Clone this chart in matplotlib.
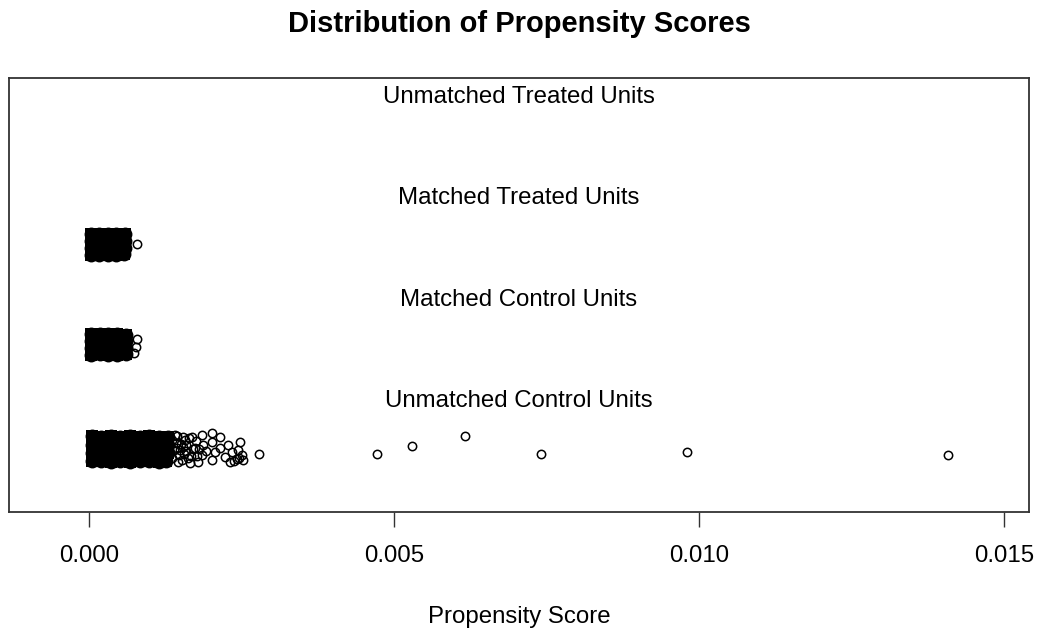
import matplotlib
matplotlib.use('Agg')
from matplotlib import pyplot as plt

plt.rcParams['font.family'] = ['Liberation Sans', 'DejaVu Sans']

# row position of each group (points) and of its caption
group_names = ['Unmatched Control Units', 'Matched Control Units', 'Matched Treated Units', 'Unmatched Treated Units']
label_y = [1, 2, 3, 4]
row_y = [0.5, 1.5, 2.5, 3.5]

# unmatched control: dense core, scattered tail, outliers (score, jitter)
uc_core_x = [0.00005, 0.00020, 0.00036, 0.00051, 0.00067, 0.00083, 0.00099, 0.00114, 0.00129,
             0.00005, 0.00021, 0.00036, 0.00052, 0.00067, 0.00082, 0.00098, 0.00114, 0.00130,
             0.00005, 0.00021, 0.00037, 0.00052, 0.00068, 0.00083, 0.00098, 0.00113, 0.00129,
             0.00005, 0.00020, 0.00036, 0.00051, 0.00067, 0.00083, 0.00099, 0.00114, 0.00127]
uc_core_j = [0.126, 0.124, 0.127, 0.125, 0.128, 0.123, 0.126, 0.124, 0.121,
             0.044, 0.046, 0.043, 0.045, 0.042, 0.044, 0.047, 0.043, 0.045,
             -0.038, -0.036, -0.039, -0.037, -0.040, -0.038, -0.035, -0.039, -0.037,
             -0.120, -0.118, -0.121, -0.119, -0.122, -0.120, -0.117, -0.121, -0.116]
uc_tail_x = [0.00141, 0.00146, 0.00149, 0.00154, 0.00157, 0.00162, 0.00169, 0.00174, 0.00179,
             0.00185, 0.00185, 0.00187, 0.00192, 0.00201, 0.00201, 0.00202, 0.00207, 0.00215,
             0.00215, 0.00223, 0.00228, 0.00231, 0.00234, 0.00243, 0.00244, 0.00248, 0.00251,
             0.00252, 0.00143, 0.00148, 0.00159, 0.00166, 0.00154,
             0.00136, 0.00136, 0.00139, 0.00144, 0.00144, 0.00151, 0.00152, 0.00156, 0.00159,
             0.00164, 0.00167, 0.00171, 0.00176, 0.00177, 0.00180, 0.00238, 0.00246]
uc_tail_j = [0.141, -0.125, -0.007, 0.023, 0.092, -0.086, 0.121, 0.013, -0.125,
             0.141, -0.056, 0.042, -0.017, 0.158, 0.075, -0.105, -0.027, 0.121,
             0.013, -0.076, 0.042, -0.125, -0.027, -0.096, -0.007, 0.075, -0.056,
             -0.105, 0.062, -0.056, -0.017, -0.135, 0.121,
             0.092, -0.086, -0.007, 0.131, 0.013, 0.052, -0.105, -0.046, 0.042,
             0.111, -0.066, 0.003, 0.082, -0.066, 0.003, -0.120, -0.085]
uc_out_x = [0.00279, 0.00472, 0.00530, 0.00616, 0.00741, 0.00980, 0.01408]
uc_out_j = [-0.049, -0.049, 0.033, 0.131, -0.049, -0.027, -0.056]

# matched control
mc_core_x = [0.000033, 0.000176, 0.000320, 0.000463, 0.000607,
             0.000035, 0.000178, 0.000318, 0.000465, 0.000605,
             0.000032, 0.000175, 0.000321, 0.000462, 0.000608,
             0.000034, 0.000177, 0.000319, 0.000464, 0.000600]
mc_core_j = [0.133, 0.131, 0.134, 0.132, 0.130,
             0.066, 0.068, 0.065, 0.067, 0.064,
             -0.001, 0.001, -0.002, 0.000, -0.003,
             -0.068, -0.066, -0.069, -0.067, -0.065]
mc_tail_x = [0.000787, 0.000770, 0.000738]
mc_tail_j = [0.087, 0.008, -0.050]

# matched treated
mt_core_x = [0.000033, 0.000171, 0.000310, 0.000447, 0.000585,
             0.000035, 0.000173, 0.000308, 0.000449, 0.000583,
             0.000032, 0.000170, 0.000311, 0.000446, 0.000586,
             0.000034, 0.000172, 0.000309, 0.000448, 0.000580]
mt_core_j = [0.124, 0.122, 0.125, 0.123, 0.121,
             0.055, 0.057, 0.054, 0.056, 0.053,
             -0.014, -0.012, -0.015, -0.013, -0.016,
             -0.083, -0.081, -0.084, -0.082, -0.080]
mt_tail_x = [0.000792]
mt_tail_j = [0.023]

x_ticks = [0.000, 0.005, 0.010, 0.015]
x_ticklabels = ['0.000', '0.005', '0.010', '0.015']

fig = plt.figure(figsize=(10.37, 6.32), dpi=100)
ax = fig.add_axes([0.00868, 0.18987, 0.98361, 0.68671])

# thousands of overlapping open circles read as a solid block
fill_style = dict(linestyle='none', marker='s', color='black', ms=8.7, mew=0)
core_style = dict(linestyle='none', marker='o', color='black', ms=10.0, mew=0)
open_style = dict(linestyle='none', marker='o', mfc='none', mec='black', ms=6.0, mew=1.1)

cores = [(uc_core_x, uc_core_j, row_y[0]), (mc_core_x, mc_core_j, row_y[1]), (mt_core_x, mt_core_j, row_y[2])]
for cx, cj, r in cores:
    ax.plot(cx, [r + j for j in cj], **fill_style)
    ax.plot(cx, [r + j for j in cj], **core_style)

ax.plot(uc_tail_x, [row_y[0] + j for j in uc_tail_j], **open_style)
ax.plot(uc_out_x, [row_y[0] + j for j in uc_out_j], **open_style)
ax.plot(mc_tail_x, [row_y[1] + j for j in mc_tail_j], **open_style)
ax.plot(mt_tail_x, [row_y[2] + j for j in mt_tail_j], **open_style)

for name, yy in zip(group_names, label_y):
    ax.text(0.5, yy, name, transform=ax.get_yaxis_transform(), ha='center', va='center_baseline', fontsize=17.3)

ax.set_xlim(-0.001311, 0.01541)
ax.set_ylim(-0.118, 4.158)
ax.set_yticks([])
ax.set_xticks(x_ticks)
ax.set_xticklabels(x_ticklabels, fontsize=17.3)
ax.tick_params(axis='x', length=10.8, width=1.0, pad=13, color='#333333')
for s in ax.spines.values():
    s.set_linewidth(1.3)
    s.set_color('#333333')
ax.set_xlabel('Propensity Score', fontsize=17.3, labelpad=28)
ax.set_title('Distribution of Propensity Scores', fontsize=21, fontweight='bold', pad=33)

fig.savefig('out.png', dpi=100)
